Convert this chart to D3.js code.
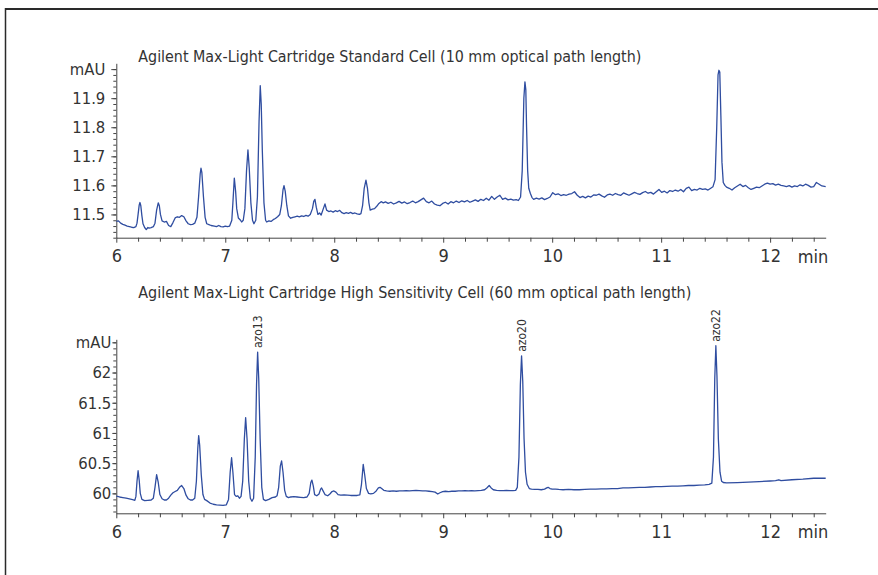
<!DOCTYPE html>
<html><head><meta charset="utf-8">
<script src="https://cdn.jsdelivr.net/npm/d3@7"></script>
<style>
html,body{margin:0;padding:0;background:#fff;}
svg{display:block;}
text{fill:#333;}
</style></head><body>
<svg id="c" width="878" height="575"></svg>
<script>
// ---------------- DATA ----------------
const xDomain = [6, 12.51];
const xTickLabels = [6, 7, 8, 9, 10, 11, 12];
const xUnit = "min";
const yUnit = "mAU";

const titleStandard = "Agilent Max-Light Cartridge Standard Cell (10 mm optical path length)";
const titleHigh = "Agilent Max-Light Cartridge High Sensitivity Cell (60 mm optical path length)";

const yTicksStandard = [11.5, 11.6, 11.7, 11.8, 11.9, 12.0];
const yTicksHigh = [60, 60.5, 61, 61.5, 62, 62.5];

// Standard cell trace: [time (min), absorbance (mAU)]
const standardCell = [
[6.00,11.476],[6.02,11.478],[6.04,11.470],[6.06,11.466],[6.08,11.463],[6.10,11.460],[6.12,11.458],[6.14,11.456],[6.16,11.455],[6.18,11.458],
[6.19,11.470],[6.20,11.500],[6.21,11.532],[6.217,11.541],[6.225,11.530],[6.235,11.495],[6.245,11.468],[6.26,11.455],[6.275,11.448],[6.29,11.455],
[6.30,11.453],[6.32,11.455],[6.34,11.458],[6.355,11.470],[6.37,11.515],[6.385,11.540],[6.395,11.530],[6.405,11.500],[6.42,11.478],[6.44,11.474],
[6.46,11.476],[6.48,11.462],[6.50,11.458],[6.52,11.472],[6.54,11.488],[6.56,11.492],[6.58,11.490],[6.60,11.496],[6.62,11.492],[6.64,11.478],
[6.66,11.468],[6.68,11.465],[6.70,11.466],[6.72,11.470],[6.74,11.490],[6.755,11.560],[6.77,11.640],[6.777,11.659],[6.785,11.645],[6.80,11.560],
[6.815,11.490],[6.83,11.468],[6.85,11.465],[6.87,11.462],[6.90,11.460],[6.92,11.458],[6.94,11.462],[6.96,11.458],[6.98,11.457],[7.00,11.460],
[7.02,11.458],[7.04,11.460],[7.06,11.480],[7.07,11.540],[7.083,11.625],[7.095,11.580],[7.105,11.520],[7.12,11.488],[7.14,11.480],[7.15,11.474],
[7.165,11.480],[7.18,11.520],[7.195,11.650],[7.208,11.722],[7.22,11.660],[7.235,11.540],[7.25,11.480],[7.263,11.468],[7.28,11.480],[7.295,11.560],
[7.31,11.820],[7.321,11.943],[7.33,11.880],[7.34,11.720],[7.355,11.540],[7.37,11.480],[7.38,11.474],[7.40,11.478],[7.42,11.476],[7.44,11.482],
[7.46,11.486],[7.48,11.492],[7.50,11.500],[7.515,11.530],[7.53,11.585],[7.539,11.599],[7.55,11.580],[7.565,11.530],[7.58,11.495],[7.60,11.487],
[7.62,11.490],[7.64,11.492],[7.66,11.494],[7.68,11.492],[7.70,11.495],[7.72,11.493],[7.74,11.497],[7.76,11.494],[7.78,11.500],[7.80,11.520],
[7.812,11.545],[7.823,11.552],[7.835,11.525],[7.85,11.500],[7.865,11.505],[7.88,11.498],[7.90,11.520],[7.915,11.536],[7.93,11.515],[7.95,11.510],
[7.97,11.512],[7.99,11.508],[8.01,11.513],[8.03,11.510],[8.05,11.514],[8.07,11.506],[8.09,11.503],[8.11,11.506],[8.13,11.504],[8.15,11.507],
[8.17,11.503],[8.19,11.505],[8.21,11.502],[8.23,11.500],[8.245,11.503],[8.26,11.530],[8.275,11.590],[8.291,11.618],[8.305,11.590],[8.318,11.540],
[8.33,11.515],[8.35,11.518],[8.37,11.520],[8.39,11.528],[8.41,11.538],[8.43,11.544],[8.45,11.540],[8.47,11.543],[8.495,11.538],[8.52,11.542],
[8.545,11.536],[8.57,11.540],[8.595,11.545],[8.62,11.539],[8.645,11.543],[8.67,11.537],[8.695,11.541],[8.72,11.546],[8.745,11.540],[8.77,11.544],
[8.795,11.550],[8.82,11.556],[8.845,11.544],[8.87,11.540],[8.895,11.546],[8.92,11.536],[8.945,11.532],[8.97,11.530],[8.995,11.538],[9.02,11.542],
[9.045,11.536],[9.07,11.544],[9.095,11.540],[9.12,11.546],[9.145,11.541],[9.17,11.547],[9.195,11.543],[9.22,11.548],[9.245,11.542],[9.27,11.546],
[9.295,11.550],[9.32,11.545],[9.345,11.552],[9.37,11.548],[9.395,11.556],[9.42,11.549],[9.445,11.562],[9.47,11.552],[9.495,11.560],[9.52,11.566],
[9.545,11.552],[9.57,11.556],[9.595,11.550],[9.62,11.553],[9.645,11.549],[9.67,11.551],[9.69,11.548],[9.71,11.560],[9.725,11.650],[9.74,11.900],
[9.75,11.956],[9.758,11.930],[9.765,11.800],[9.775,11.650],[9.785,11.590],[9.80,11.572],[9.815,11.558],[9.83,11.552],[9.855,11.556],[9.88,11.553],
[9.905,11.557],[9.93,11.551],[9.955,11.555],[9.98,11.560],[10.005,11.575],[10.03,11.568],[10.055,11.571],[10.08,11.565],[10.105,11.568],[10.13,11.566],
[10.155,11.570],[10.18,11.572],[10.205,11.578],[10.23,11.566],[10.255,11.558],[10.28,11.562],[10.305,11.557],[10.33,11.563],[10.355,11.560],[10.38,11.567],
[10.405,11.566],[10.43,11.570],[10.455,11.564],[10.48,11.559],[10.505,11.567],[10.53,11.570],[10.555,11.566],[10.58,11.572],[10.605,11.568],[10.63,11.566],
[10.655,11.574],[10.68,11.570],[10.705,11.566],[10.73,11.571],[10.755,11.576],[10.78,11.572],[10.805,11.569],[10.83,11.575],[10.855,11.579],[10.88,11.573],
[10.905,11.576],[10.93,11.570],[10.955,11.578],[10.98,11.586],[11.005,11.576],[11.03,11.580],[11.055,11.574],[11.08,11.582],[11.105,11.579],[11.13,11.584],
[11.155,11.580],[11.18,11.586],[11.205,11.578],[11.23,11.590],[11.255,11.594],[11.28,11.582],[11.305,11.586],[11.33,11.584],[11.355,11.590],[11.38,11.586],
[11.405,11.588],[11.43,11.584],[11.455,11.590],[11.475,11.595],[11.495,11.620],[11.51,11.800],[11.522,11.980],[11.53,11.996],[11.538,11.990],[11.548,11.840],
[11.558,11.680],[11.57,11.610],[11.585,11.600],[11.60,11.594],[11.625,11.590],[11.65,11.584],[11.675,11.592],[11.70,11.598],[11.725,11.604],[11.75,11.596],
[11.775,11.600],[11.80,11.592],[11.825,11.586],[11.85,11.590],[11.875,11.594],[11.90,11.592],[11.925,11.598],[11.95,11.604],[11.975,11.608],[12.00,11.604],
[12.025,11.606],[12.05,11.601],[12.075,11.604],[12.10,11.600],[12.125,11.598],[12.15,11.596],[12.175,11.599],[12.20,11.594],[12.225,11.598],[12.25,11.596],
[12.275,11.602],[12.30,11.598],[12.325,11.604],[12.35,11.600],[12.375,11.594],[12.40,11.596],[12.425,11.610],[12.45,11.604],[12.475,11.598],[12.51,11.596]
];

// High sensitivity cell trace: [time (min), absorbance (mAU)]
const highSensitivityCell = [
[6.00,59.955],[6.03,59.94],[6.06,59.93],[6.09,59.92],[6.12,59.91],[6.15,59.895],[6.17,59.885],[6.18,59.95],[6.19,60.20],[6.20,60.375],
[6.21,60.22],[6.22,60.00],[6.235,59.90],[6.26,59.88],[6.29,59.885],[6.32,59.89],[6.34,59.92],[6.355,60.10],[6.37,60.31],[6.385,60.18],
[6.40,59.98],[6.42,59.91],[6.44,59.89],[6.46,59.89],[6.48,59.92],[6.50,59.97],[6.52,60.01],[6.54,60.03],[6.56,60.05],[6.58,60.10],
[6.60,60.13],[6.62,60.08],[6.64,59.97],[6.66,59.91],[6.68,59.89],[6.70,59.89],[6.72,59.92],[6.735,60.20],[6.748,60.75],[6.756,60.955],
[6.765,60.80],[6.78,60.30],[6.795,59.98],[6.81,59.90],[6.83,59.88],[6.86,59.84],[6.89,59.82],[6.92,59.81],[6.95,59.805],[6.98,59.80],
[7.01,59.81],[7.03,59.90],[7.045,60.35],[7.058,60.59],[7.07,60.35],[7.085,59.98],[7.10,59.95],[7.115,59.96],[7.13,59.92],[7.145,59.95],
[7.16,60.20],[7.175,60.90],[7.187,61.254],[7.20,60.90],[7.215,60.20],[7.23,59.92],[7.245,59.87],[7.26,59.92],[7.275,60.60],[7.287,61.80],
[7.297,62.338],[7.307,61.90],[7.32,60.90],[7.335,60.10],[7.35,59.90],[7.37,59.88],[7.40,59.90],[7.43,59.93],[7.46,59.94],[7.475,59.96],
[7.49,60.10],[7.505,60.45],[7.517,60.536],[7.53,60.35],[7.545,60.05],[7.56,59.95],[7.58,59.93],[7.60,59.94],[7.63,59.945],[7.66,59.94],
[7.69,59.935],[7.72,59.93],[7.75,59.94],[7.77,60.00],[7.785,60.18],[7.795,60.22],[7.808,60.12],[7.82,59.98],[7.84,59.96],[7.86,59.99],
[7.875,60.07],[7.884,60.088],[7.895,60.05],[7.915,59.98],[7.94,59.96],[7.96,59.99],[7.98,60.03],[7.997,60.04],[8.015,60.02],[8.035,59.98],
[8.06,59.97],[8.09,59.975],[8.12,59.97],[8.15,59.965],[8.18,59.965],[8.21,59.965],[8.235,59.975],[8.25,60.15],[8.266,60.48],[8.28,60.30],
[8.295,60.08],[8.315,60.00],[8.335,59.99],[8.36,60.00],[8.385,60.04],[8.405,60.09],[8.42,60.10],[8.435,60.08],[8.455,60.05],[8.48,60.04],
[8.51,60.035],[8.54,60.04],[8.57,60.035],[8.60,60.04],[8.63,60.04],[8.66,60.045],[8.69,60.04],[8.72,60.045],[8.75,60.05],[8.78,60.045],
[8.81,60.04],[8.84,60.04],[8.87,60.035],[8.90,60.03],[8.925,60.02],[8.95,59.99],[8.97,60.01],[8.995,60.03],[9.02,60.035],[9.05,60.03],
[9.08,60.035],[9.11,60.035],[9.14,60.04],[9.17,60.04],[9.20,60.045],[9.23,60.04],[9.26,60.045],[9.29,60.04],[9.32,60.045],[9.35,60.05],
[9.38,60.06],[9.40,60.09],[9.422,60.13],[9.44,60.09],[9.46,60.06],[9.49,60.05],[9.52,60.045],[9.55,60.045],[9.58,60.05],[9.61,60.045],
[9.64,60.045],[9.665,60.05],[9.68,60.10],[9.695,60.60],[9.708,61.80],[9.719,62.277],[9.73,61.85],[9.742,60.90],[9.755,60.35],[9.77,60.15],
[9.79,60.08],[9.81,60.07],[9.84,60.065],[9.87,60.065],[9.90,60.06],[9.93,60.07],[9.95,60.09],[9.963,60.10],[9.98,60.08],[10.00,60.07],
[10.03,60.07],[10.06,60.065],[10.10,60.06],[10.15,60.065],[10.20,60.06],[10.25,60.06],[10.30,60.065],[10.35,60.07],[10.40,60.07],[10.45,60.075],
[10.50,60.075],[10.55,60.08],[10.60,60.08],[10.65,60.09],[10.70,60.09],[10.75,60.095],[10.80,60.10],[10.85,60.10],[10.90,60.105],[10.95,60.11],
[11.00,60.11],[11.05,60.115],[11.10,60.12],[11.15,60.12],[11.20,60.125],[11.25,60.13],[11.30,60.13],[11.35,60.135],[11.40,60.14],[11.44,60.15],
[11.465,60.17],[11.48,60.60],[11.492,61.90],[11.502,62.443],[11.512,61.95],[11.525,60.90],[11.54,60.35],[11.555,60.20],[11.57,60.18],[11.60,60.175],
[11.70,60.178],[11.80,60.185],[11.90,60.195],[12.00,60.205],[12.05,60.21],[12.08,60.225],[12.10,60.212],[12.20,60.225],[12.30,60.235],[12.40,60.25],
[12.51,60.25]
];

const peakLabels = [
  {name: "azo13", time: 7.297, value: 62.338},
  {name: "azo20", time: 9.719, value: 62.277},
  {name: "azo22", time: 11.502, value: 62.443}
];

// ---------------- DRAWING ----------------
const svg = d3.select("#c");
const FONT = "'Liberation Sans Narrow','DejaVu Sans Condensed','Arial Narrow',sans-serif";
const lineColor = "#2f4d a0".replace(" ", "");
const axisColor = "#444";

svg.append("line").attr("x1",5).attr("x2",878).attr("y1",9).attr("y2",9).attr("stroke","#2a2a2a").attr("stroke-width",2);
svg.append("line").attr("x1",5.5).attr("x2",5.5).attr("y1",8).attr("y2",575).attr("stroke","#2a2a2a").attr("stroke-width",1.5);

function drawPanel(cfg) {
  const g = svg.append("g");
  const x = d3.scaleLinear().domain(xDomain).range([cfg.left, cfg.right]);
  const y = d3.scaleLinear().domain(cfg.yDomain).range([cfg.bottom, cfg.top]);

  const xMinor = d3.range(6.2, 12.5, 0.2).filter(v => Math.abs(v - Math.round(v)) > 1e-6);
  g.append("g").attr("transform", `translate(0,${cfg.bottom})`)
    .call(d3.axisBottom(x).tickValues(xMinor).tickSize(4).tickSizeOuter(0).tickFormat(""))
    .call(a => a.select(".domain").remove());
  const xa = g.append("g").attr("transform", `translate(0,${cfg.bottom})`)
    .call(d3.axisBottom(x).tickValues(xTickLabels).tickSize(5).tickSizeOuter(0).tickPadding(7).tickFormat(d3.format("d")));
  xa.selectAll("text").attr("font-family", FONT).attr("font-size", 18).attr("fill","#333");

  const yMinor = d3.range(cfg.minorStart, cfg.yDomain[1], cfg.minorStep);
  g.append("g").attr("transform", `translate(${cfg.left},0)`)
    .call(d3.axisLeft(y).tickValues(yMinor).tickSize(3).tickSizeOuter(0).tickFormat(""))
    .call(a => a.select(".domain").remove());
  const ya = g.append("g").attr("transform", `translate(${cfg.left},0)`)
    .call(d3.axisLeft(y).tickValues(cfg.yTicks).tickSize(cfg.yTick).tickSizeOuter(0).tickPadding(cfg.yPad)
      .tickFormat((d, i) => i === cfg.yTicks.length - 1 ? yUnit : cfg.fmt(d)));
  ya.selectAll("text").attr("font-family", FONT).attr("font-size", 16.5).attr("fill","#333");

  g.selectAll(".domain, .tick line").attr("stroke", axisColor);

  g.append("text").attr("x", cfg.right + 2.5).attr("y", cfg.bottom + 25)
    .attr("text-anchor","end").attr("font-family", FONT).attr("font-size", 18).text(xUnit);

  g.append("text").attr("x", 138.3).attr("y", cfg.titleY)
    .attr("font-family", FONT).attr("font-size", 16)
    .attr("textLength", cfg.titleLen).attr("lengthAdjust","spacingAndGlyphs")
    .text(cfg.title);

  const line = d3.line().x(d => x(d[0])).y(d => y(d[1]));
  g.append("path").datum(cfg.data).attr("d", line)
    .attr("fill","none").attr("stroke", lineColor).attr("stroke-width", 1.3).attr("stroke-linejoin","round");

  return {x, y, g};
}

const panelTop = drawPanel({
  left: 116.3, right: 825.7, top: 63.3, bottom: 237.7,
  yDomain: [11.42, 12.02], yTicks: yTicksStandard, minorStart: 11.42, minorStep: 0.02,
  fmt: d3.format(".1f"), yPad: 6, yTick: 5,
  title: titleStandard, titleY: 62, titleLen: 503, data: standardCell
});

const panelBottom = drawPanel({
  left: 116.3, right: 825.7, top: 339.3, bottom: 513.3,
  yDomain: [59.67, 62.55], yTicks: yTicksHigh, minorStart: 59.7, minorStep: 0.1,
  fmt: d => String(+d.toFixed(1)), yPad: 1, yTick: 4,
  title: titleHigh, titleY: 298, titleLen: 553, data: highSensitivityCell
});

panelBottom.g.selectAll(".peak").data(peakLabels).enter().append("text")
  .attr("class","peak")
  .attr("transform", d => `translate(${panelBottom.x(d.time) + 4},${panelBottom.y(d.value) - 4}) rotate(-90)`)
  .attr("font-family", FONT).attr("font-size", 12)
  .text(d => d.name);
</script>
</body></html>
